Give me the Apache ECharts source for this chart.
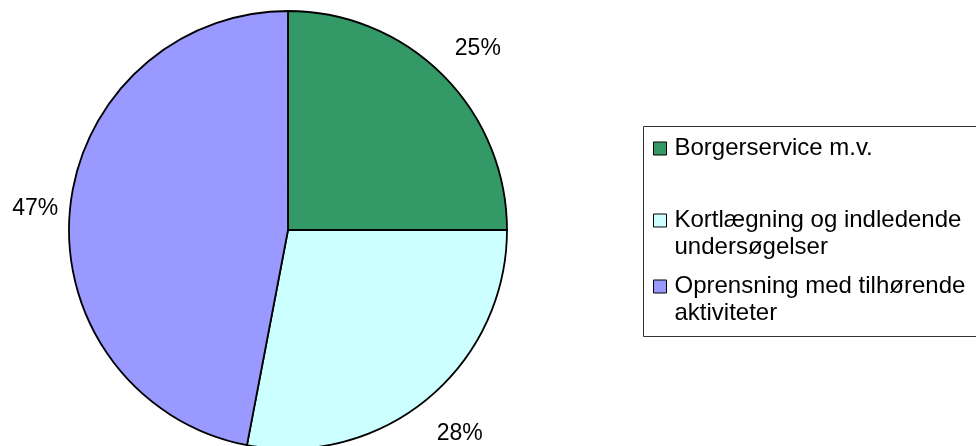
<!DOCTYPE html>
<html>
<head>
<meta charset="utf-8">
<script src="https://cdn.jsdelivr.net/npm/echarts@6/dist/echarts.min.js"></script>
<style>
html,body{margin:0;padding:0;background:#fff;}
#chart{width:976px;height:446px;}
</style>
</head>
<body>
<div id="chart"></div>
<script>
const categories = ['Borgerservice m.v.', 'Kortlægning og indledende undersøgelser', 'Oprensning med tilhørende aktiviteter'];
const legendLabels = ['Borgerservice m.v.', '\nKortlægning og indledende\nundersøgelser', '\nOprensning med tilhørende\naktiviteter'];
const values = [25, 28, 47];
const colors = ['#339966', '#CCFFFF', '#9999FF'];

const FONT = '"Liberation Sans", Arial, sans-serif';
const chart = echarts.init(document.getElementById('chart'), null, {renderer: 'canvas'});

function makeLegend(i, top) {
  return {
    orient: 'vertical',
    left: 653,
    top: top,
    padding: 0,
    itemWidth: 13,
    itemHeight: 13,
    icon: 'rect',
    data: [categories[i]],
    selectedMode: false,
    formatter: function () { return legendLabels[i]; },
    itemStyle: {borderColor: '#000', borderWidth: 1},
    textStyle: {
      color: '#000',
      fontFamily: FONT,
      fontSize: 24,
      lineHeight: 27,
      padding: [0, 0, 0, 3]
    }
  };
}

chart.setOption({
  backgroundColor: '#fff',
  animation: false,
  color: colors,
  graphic: [{
    type: 'rect',
    shape: {x: 643.5, y: 126.5, width: 400, height: 210},
    style: {fill: 'none', stroke: '#333', lineWidth: 1},
    z: -1
  }],
  legend: [makeLegend(0, 135), makeLegend(1, 180), makeLegend(2, 246)],
  series: [{
    type: 'pie',
    center: [288, 230],
    radius: 219,
    startAngle: 90,
    clockwise: true,
    avoidLabelOverlap: false,
    itemStyle: {borderColor: '#000', borderWidth: 1.8},
    label: {
      show: true,
      position: 'outside',
      formatter: '{c}%',
      color: '#000',
      fontFamily: FONT,
      fontSize: 23,
      distanceToLabelLine: 0
    },
    labelLine: {show: false, length: 41, length2: 0},
    labelLayout: function () { return {align: 'center', verticalAlign: 'middle', dx: 6, dy: 3}; },
    emphasis: {disabled: true},
    data: categories.map((c, i) => ({name: c, value: values[i], itemStyle: {color: colors[i]}}))
  }]
});
</script>
</body>
</html>
